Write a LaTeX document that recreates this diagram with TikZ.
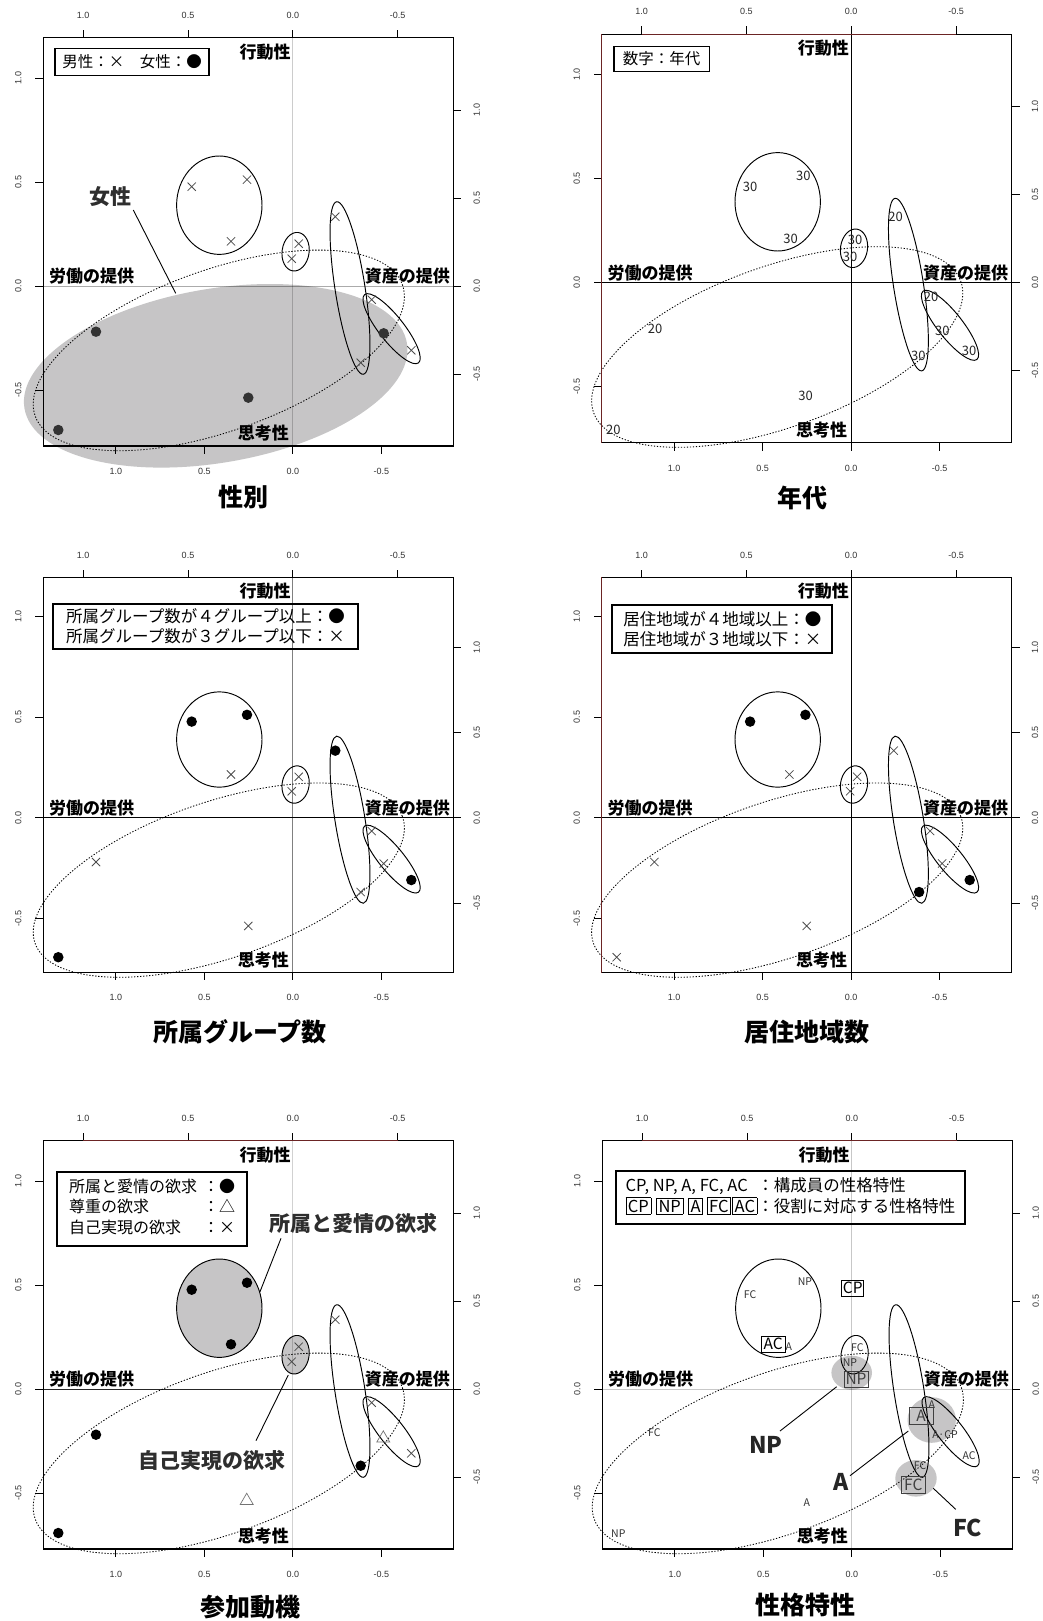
\documentclass[tikz,border=0pt]{standalone}
\usepackage{fontspec}
\setmainfont{Noto Sans CJK JP}
\newfontfamily\tickfont{Liberation Sans}
\usetikzlibrary{shapes.misc,shapes.geometric}
\definecolor{frred}{HTML}{6B2424}
\definecolor{fillg}{HTML}{C6C5C6}
\setlength\fboxsep{1.6pt}
\setlength\fboxrule{0.7pt}
\tikzset{
 frameline/.style={line width=1.2pt},
 tickl/.style={line width=0.9pt},
 ticklab/.style={font=\tickfont\fontsize{9}{9}\selectfont, text=black!80, inner sep=0pt},
 axlab/.style={font=\bfseries\fontsize{17}{17}\selectfont, inner sep=0pt},
 ttl/.style={font=\bfseries\fontsize{25}{25}\selectfont, inner sep=0pt},
 callout/.style={font=\bfseries\fontsize{21}{21}\selectfont, text=black!82, inner sep=0pt},
 crossm/.style={cross out, draw=black!70, line width=0.75pt, minimum size=7.5pt, inner sep=0pt},
 dotm/.style={circle, fill=black, minimum size=10.5pt, inner sep=0pt},
 trim/.style={regular polygon, regular polygon sides=3, draw=black!55, line width=0.7pt, minimum size=15pt, inner sep=0pt},
 grp/.style={line width=0.95pt},
 dotgrp/.style={line width=0.85pt, dash pattern=on 1.3pt off 1.7pt},
 numlab/.style={font=\fontsize{13}{13}\selectfont, inner sep=0pt, text=black!85},
 smlab/.style={font=\fontsize{10.5}{10.5}\selectfont, inner sep=0pt, text=black!80},
 boxlab/.style={draw, line width=0.75pt, font=\fontsize{15.5}{15.5}\selectfont, inner sep=1.2pt, minimum height=16.5pt},
 legbox/.style={draw, inner sep=0pt},
 leader/.style={line width=0.9pt},
 bigl/.style={font=\bfseries\fontsize{23}{23}\selectfont, inner sep=0pt, text=black!85},
}
\newcommand\groupshapes{%
 \draw[grp] (176,167.5) ellipse [x radius=42.7, y radius=49.2];
 \draw[grp, rotate around={-8.3:(252.3,214)}] (252.3,214) ellipse [x radius=13.5, y radius=19.4];
 \draw[grp, rotate around={98.8:(306.7,250.3)}] (306.7,250.3) ellipse [x radius=87.3, y radius=15];
 \draw[grp, rotate around={128.2:(348.3,291)}] (348.3,291) ellipse [x radius=43.5, y radius=12.5];
 \draw[dotgrp, rotate around={19.7:(175.5,312.7)}] (175.5,312.7) ellipse [x radius=195, y radius=80.5];
}
\newcommand\panelbase[3]{%
 \draw[#2] (249.5,0) -- (249.5,408.3);
 \draw[#3] (0,248.3) -- (410,248.3);
 \groupshapes
 \draw[frameline] (0,0) rectangle (410,408.3);
 \foreach \x/\t [count=\k] in {39.9/1.0,144.7/0.5,249.5/0.0,354.3/-0.5}{
   \draw[tickl] (\x,0) -- (\x,-8);
   \node[ticklab] (#1top\k) at (\x,-22.7) {\t};}
 \foreach \x/\t [count=\k] in {72.5/1.0,161/0.5,249.5/0.0,338/-0.5}{
   \draw[tickl] (\x,408.3) -- (\x,416.3);
   \node[ticklab] (#1bot\k) at (\x,434) {\t};}
 \foreach \y/\t [count=\k] in {40.3/1.0,144.3/0.5,248.3/0.0,352.3/-0.5}{
   \draw[tickl] (0,\y) -- (-8,\y);
   \node[ticklab, rotate=90] (#1lft\k) at (-25,\y) {\t};}
 \foreach \y/\t [count=\k] in {72.3/1.0,160.3/0.5,248.3/0.0,336.3/-0.5}{
   \draw[tickl] (410,\y) -- (418,\y);
   \node[ticklab, rotate=90] (#1rgt\k) at (433.4,\y) {\t};}
 \node[axlab] (#1act) at (221.7,14) {行動性};
 \node[axlab] (#1lab) at (48.4,238.3) {労働の提供};
 \node[axlab] (#1cap) at (364,238.3) {資産の提供};
 \node[axlab] (#1thk) at (220,395.6) {思考性};
}
\begin{document}
\begin{tikzpicture}[x=1pt,y=-1pt]
\useasboundingbox (0,0) rectangle (1042,1621);
\fill[white] (0,0) rectangle (1042,1621);

% ---------------- Panel 1
\begin{scope}[shift={(43.3,37.7)}]
 \fill[fillg, rotate around={9.7:(172.4,338.1)}] (172.4,338.1) ellipse [x radius=194, y radius=87];
 \panelbase{A}{black,opacity=0.2,line width=1pt}{black,opacity=0.33,line width=1pt}
 \foreach \n/\x/\y in {1/148.4/149, 2/203.7/142, 3/187.7/203.6, 4/255.4/206, 5/248.4/221, 6/292/179, 7/328.4/262, 8/317.4/325, 9/368/312.6}
   \node[crossm] (Am\n) at (\x,\y) {};
 \foreach \n/\x/\y in {10/52.7/294, 11/205/360, 12/15/392.3, 13/340.4/295.6}
   \node[dotm, fill=black!80] (Am\n) at (\x,\y) {};
 \node[legbox, line width=1.3pt, minimum width=154pt, minimum height=27.4pt, font=\fontsize{15.5}{15.5}\selectfont] (Aleg) at (88.7,24.3) {男性：×　女性：●};
 \node[callout] (Afem) at (66.7,159) {女性};
 \coordinate (Al1) at (90,172.3);
 \coordinate (Al2) at (132.4,255.6);
 \draw[leader] (Al1) -- (Al2);
\end{scope}

% ---------------- Panel 2
\begin{scope}[shift={(601.7,34.3)}]
 \panelbase{B}{black,line width=1pt}{black,line width=1pt}
 \draw[frred, line width=1.2pt] (0,0) -- (0,408.3);
 \draw[frred, line width=1.2pt] (39.9,0) -- (354.3,0);
 \foreach \n/\x/\y/\t in {1/148.3/152.4/30, 2/201.6/141.7/30, 3/189/205/30, 4/253.3/205.7/30, 5/248.3/223/30, 6/294/183/20, 7/329.3/262.4/20, 8/316.6/321.7/30, 9/367.3/316.7/30, 10/53.3/295/20, 11/204/361.4/30, 12/11.6/395.7/20, 13/340.6/296.7/30}
   \node[numlab] (Bm\n) at (\x,\y) {\t};
 \node[legbox, line width=1.2pt, minimum width=95.3pt, minimum height=24.6pt, font=\fontsize{15.5}{15.5}\selectfont] (Bleg) at (60,24.7) {数字：年代};
\end{scope}

% ---------------- Panel 3
\begin{scope}[shift={(43.3,577.3)}, yscale=0.9684]
 \panelbase{C}{black!50,line width=1.1pt}{black,line width=1pt}
 \foreach \n/\x/\y in {3/187.7/203.6, 4/255.4/206, 5/248.4/221, 7/328.4/262, 8/317.4/325, 10/52.7/294, 11/205/360, 13/340.4/295.6}
   \node[crossm] (Cm\n) at (\x,\y) {};
 \foreach \n/\x/\y in {1/148.4/149, 2/203.7/142, 6/292/179, 9/368/312.6, 12/15/392.3}
   \node[dotm] (Cm\n) at (\x,\y) {};
 \node[legbox, line width=2.2pt, minimum width=305.6pt, minimum height=44.7pt, align=left, font=\fontsize{16.5}{20}\selectfont] (Cleg) at (162.2,50.96) {所属グループ数が４グループ以上：●\\所属グループ数が３グループ以下：×};
\end{scope}

% ---------------- Panel 4
\begin{scope}[shift={(601.7,577.3)}, yscale=0.9684]
 \panelbase{D}{black,line width=1pt}{black,line width=1pt}
 \draw[frred, line width=1.2pt] (0,0) -- (0,408.3);
 \foreach \n/\x/\y in {3/187.7/203.6, 4/255.4/206, 5/248.4/221, 6/292/179, 7/328.4/262, 10/52.7/294, 11/205/360, 12/15/392.3, 13/340.4/295.6}
   \node[crossm] (Dm\n) at (\x,\y) {};
 \foreach \n/\x/\y in {1/148.4/149, 2/203.7/142, 8/317.4/325, 9/368/312.6}
   \node[dotm] (Dm\n) at (\x,\y) {};
 \node[legbox, line width=1.8pt, minimum width=220pt, minimum height=47.7pt, align=left, font=\fontsize{16.5}{20}\selectfont] (Dleg) at (120.6,53.2) {居住地域が４地域以上：●\\居住地域が３地域以下：×};
\end{scope}

% ---------------- Panel 5
\begin{scope}[shift={(43.3,1140.7)}]
 \fill[fillg] (176,167.5) ellipse [x radius=42.7, y radius=49.2];
 \fill[fillg, rotate around={-8.3:(252.3,214)}] (252.3,214) ellipse [x radius=13.5, y radius=19.4];
 \panelbase{E}{black,opacity=0.18,line width=1pt}{black!85,line width=1pt}
 \draw[frred, line width=1.2pt] (39.9,0) -- (354.3,0);
 \foreach \n/\x/\y in {4/255.4/206, 5/248.4/221, 6/292/179, 7/328.4/262, 9/368/312.6}
   \node[crossm] (Em\n) at (\x,\y) {};
 \foreach \n/\x/\y in {1/148.4/149, 2/203.7/142, 3/187.7/203.6, 8/317.4/325, 10/52.7/294, 12/15/392.3}
   \node[dotm] (Em\n) at (\x,\y) {};
 \foreach \n/\x/\y in {11/203.4/360, 13/340/297.6}
   \node[trim] (Em\n) at (\x,\y) {};
 \node[legbox, line width=2pt, minimum width=189.4pt, minimum height=74.3pt, font=\fontsize{16}{20.3}\selectfont] (Eleg) at (108.7,68.15) {\begin{tabular}{@{}l@{\hspace{6pt}}l@{}}所属と愛情の欲求&：●\\尊重の欲求&：△\\自己実現の欲求&：×\end{tabular}};
 \node[callout] (Elove) at (310,82.6) {所属と愛情の欲求};
 \coordinate (El1) at (237.7,97.6);
 \coordinate (El2) at (216.7,151);
 \draw[leader] (El1) -- (El2);
 \node[callout] (Eself) at (168.4,319.3) {自己実現の欲求};
 \coordinate (Es1) at (245,234.3);
 \coordinate (Es2) at (212.7,300);
 \draw[leader] (Es1) -- (Es2);
\end{scope}

% ---------------- Panel 6
\begin{scope}[shift={(602.3,1140.7)}]
 \fill[fillg] (249.4,232) ellipse [x radius=20.3, y radius=17];
 \fill[fillg] (329.4,279.3) ellipse [x radius=24.2, y radius=22.8];
 \fill[fillg] (313.7,337.6) ellipse [x radius=20.7, y radius=18.3];
 \panelbase{F}{black,opacity=0.22,line width=1pt}{black,opacity=0.22,line width=1pt}
 \draw[frred, line width=1.2pt] (39.9,0) -- (354.3,0);
 \foreach \n/\x/\y/\t in {1/147.7/154.3/FC, 2/202.7/141.3/NP, 3/186.4/206/A, 4/255/206.6/FC, 5/247.7/222/NP, 7/329.4/264.3/A, 8/317.7/325.3/FC, 9/366.7/315.3/AC, 10/52/292/FC, 11/204.4/361.6/A, 12/16/393.3/NP, 13/342.7/294.3/A·CP}
   \node[smlab] (Fm\n) at (\x,\y) {\t};
 \node[boxlab] (Fbcp) at (250.4,147.6) {CP};
 \node[boxlab, minimum width=24pt] (Fbac) at (171,203.6) {AC};
 \node[boxlab, minimum width=24pt, draw=black!75, text=black!75] (Fbnp) at (253.7,238.6) {NP};
 \node[boxlab, minimum width=24pt, draw=black!75, text=black!75] (Fba) at (318.7,275.3) {A};
 \node[boxlab, minimum width=24pt, draw=black!75, text=black!75] (Fbfc) at (311,344.3) {FC};
 \node[bigl] (Fnp) at (163.7,304.3) {NP};
 \coordinate (Fn1) at (234.4,246);
 \coordinate (Fn2) at (177.7,290.3);
 \draw[leader] (Fn1) -- (Fn2);
 \node[bigl] (Fa) at (238.7,341) {A};
 \coordinate (Fa1) at (306,290.3);
 \coordinate (Fa2) at (247.7,335);
 \draw[leader] (Fa1) -- (Fa2);
 \node[bigl] (Ffc) at (365.4,387) {FC};
 \coordinate (Ff1) at (331,347.6);
 \coordinate (Ff2) at (353.4,368.6);
 \draw[leader] (Ff1) -- (Ff2);
 \node[legbox, line width=2.4pt, minimum width=349pt, minimum height=53.3pt, font=\fontsize{16.5}{21}\selectfont] (Fleg) at (188.2,56.65) {\begin{tabular}{@{}l@{}l@{}}CP, NP, A, FC, AC\hspace{4pt}&：構成員の性格特性\\\fbox{CP}\hspace{5pt}\fbox{NP}\hspace{5pt}\fbox{A}\hspace{4pt}\fbox{FC}\hspace{1.5pt}\fbox{AC}&：役割に対応する性格特性\end{tabular}};
\end{scope}

% ---------------- Titles
\node[ttl] (T1) at (243.3,496.7) {性別};
\node[ttl] (T2) at (802.3,498.3) {年代};
\node[ttl] (T3) at (240,1031.7) {所属グループ数};
\node[ttl] (T4) at (806.7,1031.7) {居住地域数};
\node[ttl] (T5) at (250,1606.7) {参加動機};
\node[ttl] (T6) at (805.7,1605) {性格特性};
\end{tikzpicture}
\end{document}
